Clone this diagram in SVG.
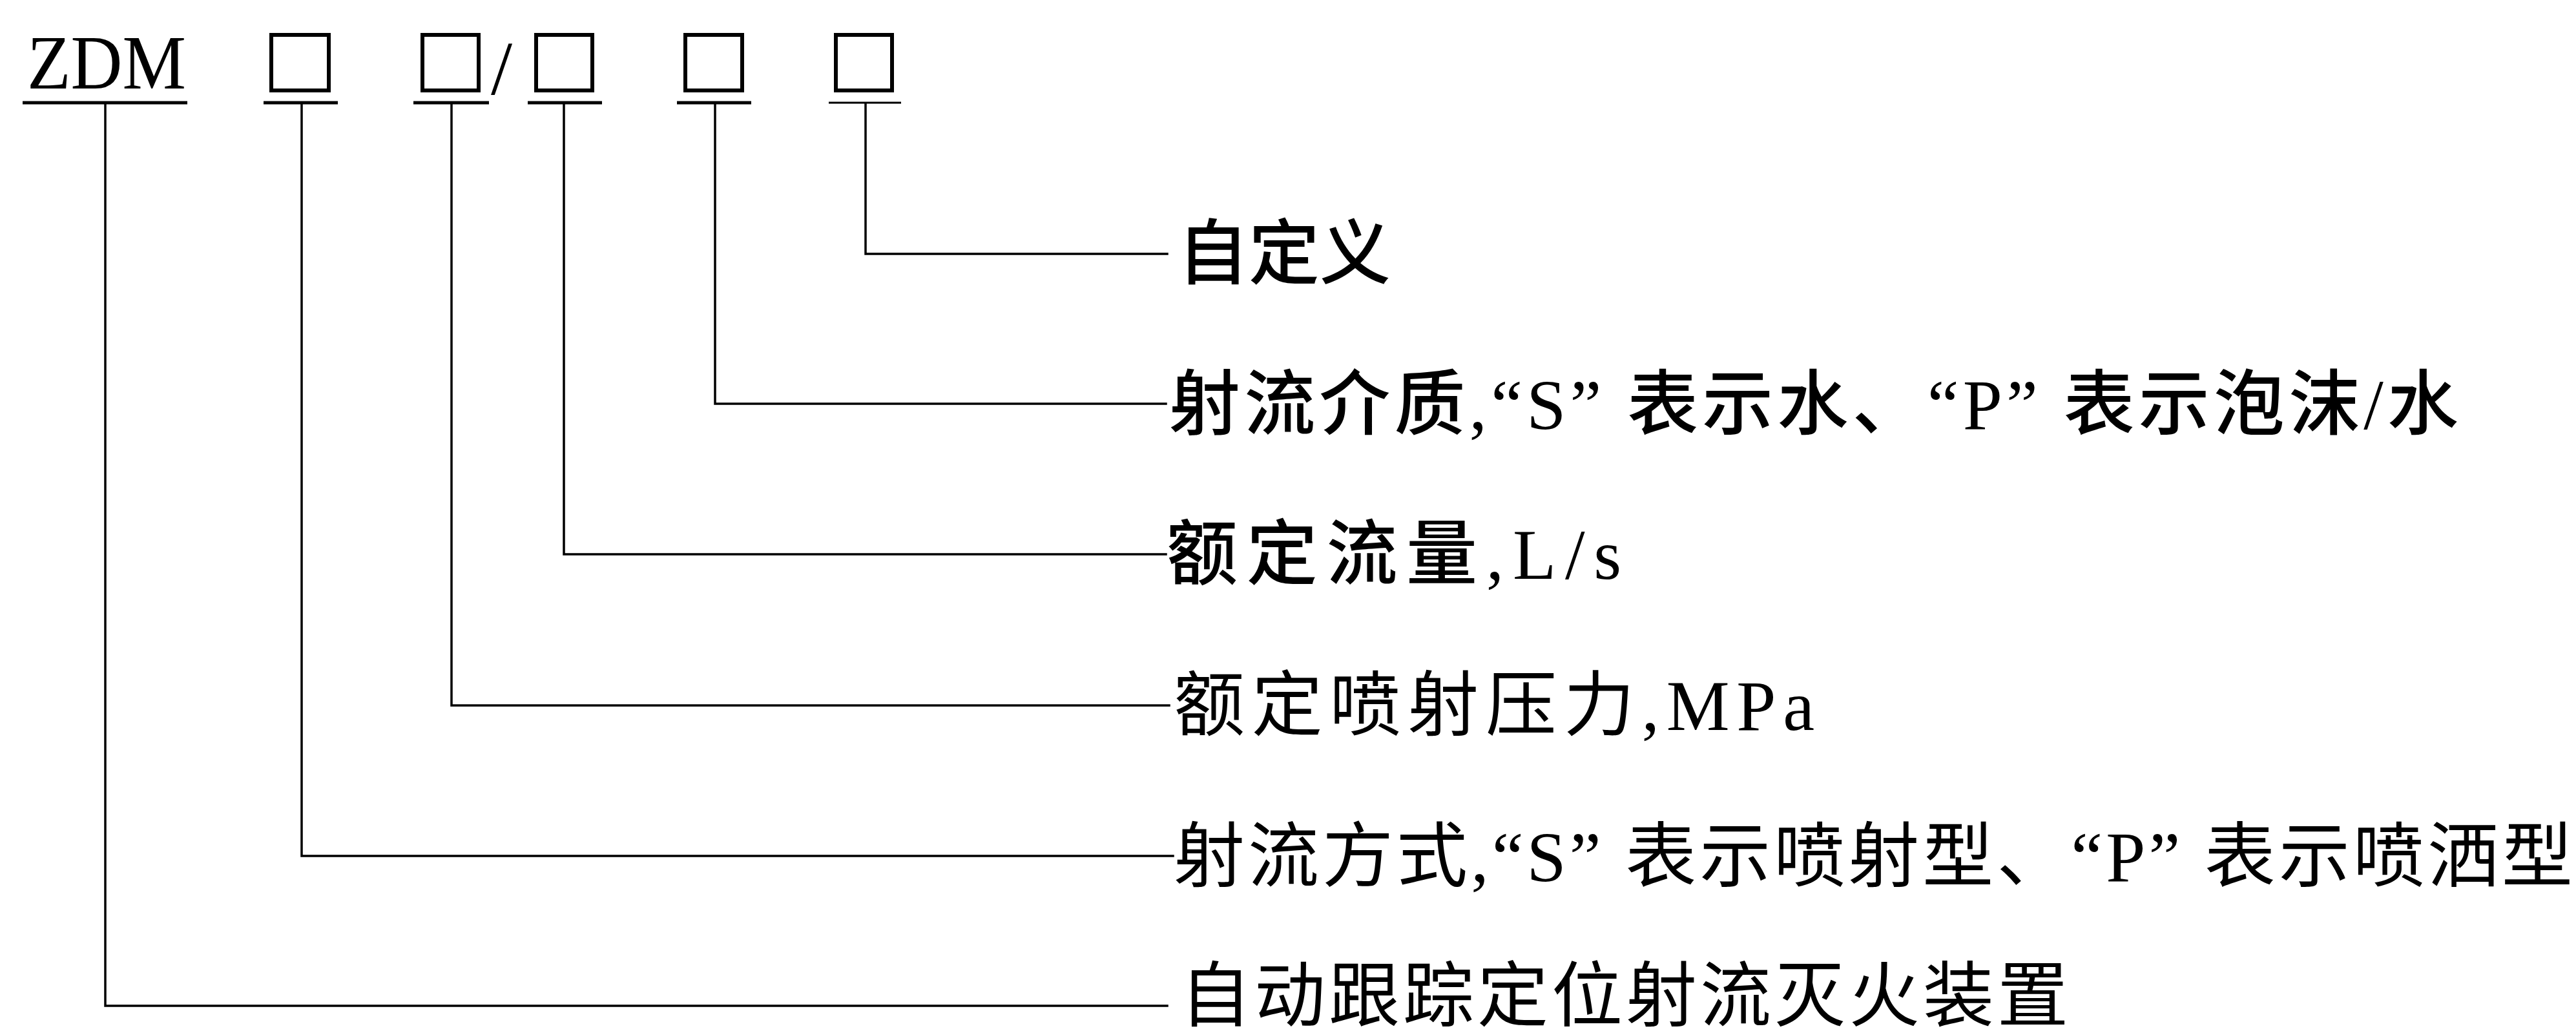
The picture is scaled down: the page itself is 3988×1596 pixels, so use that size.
<svg xmlns="http://www.w3.org/2000/svg" width="3988" height="1596" viewBox="0 0 3988 1596">
<style>
.bg{fill:#ffffff}
.code{font-family:"Liberation Serif","Noto Sans CJK SC",serif;font-size:119px;fill:#000}
.box{fill:none;stroke:#000;stroke-width:6}
.ul{stroke:#000;stroke-width:5;fill:none}
.ul-thin{stroke:#000;stroke-width:3;fill:none}
.wire{stroke:#000;stroke-width:3.5;fill:none;stroke-linecap:square}
.lbl{font-family:"Liberation Serif","Noto Sans CJK SC",serif;font-size:110px;fill:#000}
.lbl-b{font-weight:500}
</style>
<rect class="bg" x="0" y="0" width="3988" height="1596"/>

<g id="code-zdm">
  <text class="code" x="42" y="137" textLength="246" lengthAdjust="spacingAndGlyphs">ZDM</text>
  <line class="ul" x1="35" y1="159" x2="290" y2="159"/>
</g>
<g id="field-jet-mode">
  <rect class="box" x="420" y="54" width="89" height="86"/>
  <line class="ul" x1="408" y1="159" x2="523" y2="159"/>
</g>
<g id="field-pressure">
  <rect class="box" x="654" y="54" width="87" height="86"/>
  <line class="ul" x1="640" y1="159" x2="757" y2="159"/>
</g>
<g id="separator">
  <text class="code" x="760" y="146" font-size="132">/</text>
</g>
<g id="field-flow">
  <rect class="box" x="830" y="54" width="87" height="86"/>
  <line class="ul" x1="817" y1="159" x2="932" y2="159"/>
</g>
<g id="field-medium">
  <rect class="box" x="1061" y="54" width="88" height="86"/>
  <line class="ul" x1="1048" y1="159" x2="1163" y2="159" stroke-width="4"/>
</g>
<g id="field-custom">
  <rect class="box" x="1294" y="54" width="87" height="86"/>
  <line class="ul-thin" x1="1283" y1="159" x2="1395" y2="159"/>
</g>

<g id="connectors">
  <polyline class="wire" points="1340,160 1340,393 1807,393"/>
  <polyline class="wire" points="1107,160 1107,625 1805,625"/>
  <polyline class="wire" points="873,160 873,858 1805,858"/>
  <polyline class="wire" points="699,160 699,1092 1810,1092"/>
  <polyline class="wire" points="467,160 467,1325 1816,1325"/>
  <polyline class="wire" points="163,160 163,1557 1807,1557"/>
</g>

<g id="label-custom">
  <text class="lbl lbl-b" x="1823" y="431" textLength="330" lengthAdjust="spacing">自定义</text>
</g>
<g id="label-medium">
  <text class="lbl lbl-b" x="1810" y="664" textLength="1996" lengthAdjust="spacing">射流介质,“S” 表示水、“P” 表示泡沫/水</text>
</g>
<g id="label-flow">
  <text class="lbl lbl-b" x="1806" y="896" textLength="704" lengthAdjust="spacing">额定流量,L/s</text>
</g>
<g id="label-pressure">
  <text class="lbl" x="1817" y="1130" textLength="992" lengthAdjust="spacing">额定喷射压力,MPa</text>
</g>
<g id="label-jet-mode">
  <text class="lbl" x="1817" y="1364" textLength="2166" lengthAdjust="spacing">射流方式,“S” 表示喷射型、“P” 表示喷洒型</text>
</g>
<g id="label-device">
  <text class="lbl" x="1827" y="1580" textLength="1375" lengthAdjust="spacing">自动跟踪定位射流灭火装置</text>
</g>
</svg>
